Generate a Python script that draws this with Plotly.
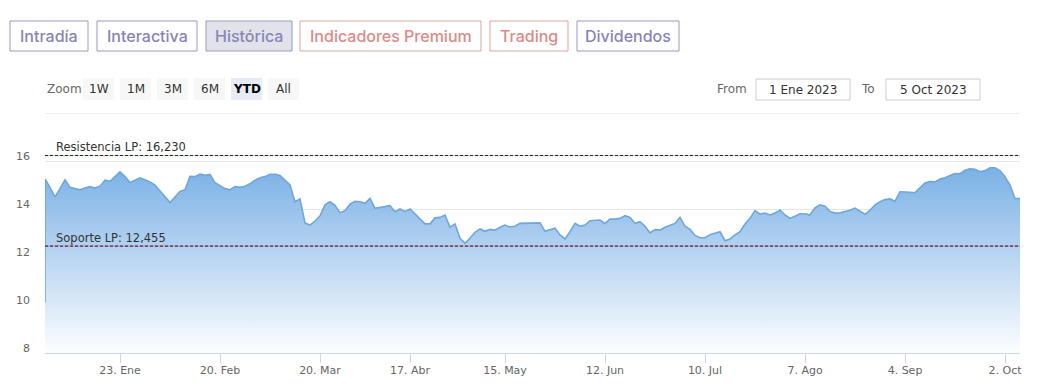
import pandas as pd
import plotly.graph_objects as go

# ---------------- data ----------------
holidays = ["2023-04-07", "2023-04-10", "2023-05-01"]
trading_days = list(pd.bdate_range("2023-01-02", "2023-10-05", freq="C", holidays=holidays))

opening_glitch = 10.1  # first quote drawn as vertical stroke at the left edge
close = [
    15.25, 14.9, 14.5, 14.85, 15.22, 14.9, 14.85, 14.8, 14.87, 14.93,
    14.87, 14.95, 15.2, 15.15, 15.35, 15.55, 15.35, 15.1, 15.2, 15.3,
    15.22, 15.13, 15.0, 14.75, 14.5, 14.27, 14.5, 14.73, 14.8, 15.36,
    15.35, 15.45, 15.4, 15.44, 15.1, 14.98, 14.85, 14.8, 14.93, 14.9,
    14.95, 15.05, 15.2, 15.3, 15.35, 15.45, 15.45, 15.4, 15.2, 15.0,
    14.3, 14.42, 13.42, 13.33, 13.5, 13.72, 14.17, 14.3, 14.15, 13.84,
    13.93, 14.2, 14.32, 14.3, 14.24, 14.44, 14.03, 14.08, 14.1, 14.14,
    13.89, 14.0, 13.9, 14.0, 13.79, 13.58, 13.38, 13.38, 13.63, 13.65,
    13.75, 13.24, 13.38, 12.78, 12.58, 12.78, 13.03, 13.17, 13.07, 13.15,
    13.12, 13.24, 13.33, 13.25, 13.28, 13.4, 13.4, 13.4, 13.4, 13.42,
    13.07, 13.14, 13.2, 12.92, 12.75, 13.05, 13.4, 13.28, 13.33, 13.51,
    13.54, 13.54, 13.4, 13.58, 13.58, 13.61, 13.72, 13.65, 13.4, 13.47,
    13.28, 13.0, 13.14, 13.12, 13.24, 13.33, 13.4, 13.65, 13.28, 13.15,
    12.9, 12.8, 12.8, 12.93, 12.98, 13.05, 12.68, 12.75, 12.92, 13.05,
    13.38, 13.61, 13.93, 13.79, 13.83, 13.75, 13.83, 13.96, 13.75, 13.61,
    13.7, 13.8, 13.8, 13.75, 14.05, 14.17, 14.12, 13.9, 13.83, 13.84,
    13.9, 13.95, 14.04, 13.9, 13.78, 13.95, 14.17, 14.3, 14.39, 14.42,
    14.32, 14.72, 14.72, 14.7, 14.68, 14.9, 15.08, 15.14, 15.13, 15.25,
    15.3, 15.4, 15.48, 15.47, 15.62, 15.67, 15.65, 15.55, 15.6, 15.72,
    15.72, 15.6, 15.35, 15.0, 14.44, 14.44,
]

resistance_value = 16.230
support_value = 12.455
resistance_label = "Resistencia LP: 16,230"
support_label = "Soporte LP: 12,455"

x_tick_dates = ["2023-01-23", "2023-02-20", "2023-03-20", "2023-04-17", "2023-05-15",
                "2023-06-12", "2023-07-10", "2023-08-07", "2023-09-04", "2023-10-02"]
x_tick_text = ["23. Ene", "20. Feb", "20. Mar", "17. Abr", "15. May",
               "12. Jun", "10. Jul", "7. Ago", "4. Sep", "2. Oct"]
y_tick_vals = [8, 10, 12, 14, 16, 18]
y_tick_text = ["8", "10", "12", "14", "16", ""]
y_max = 18

tabs = ["Intradía", "Interactiva", "Histórica", "Indicadores Premium", "Trading", "Dividendos"]
zoom_buttons = ["1W", "1M", "3M", "6M", "YTD", "All"]
date_from = "1 Ene 2023"
date_to = "5 Oct 2023"

# ---------------- layout geometry (pixels) ----------------
W, H = 1039, 389
L, R, T, B = 45, 1020, 113, 353


def px(x):
    return (x - L) / (R - L)


def py(y):
    return (B - y) / (B - T)


dates = [trading_days[0]] + trading_days
values = [opening_glitch] + close

fig = go.Figure()
fig.add_trace(go.Scatter(
    x=dates, y=values, mode="lines",
    line=dict(color="#6fa6dc", width=1.6),
    fill="tozeroy",
    fillgradient=dict(type="vertical", start=8, stop=16,
                      colorscale=[[0, "rgba(252,253,255,0.85)"], [1, "rgba(94,160,224,0.85)"]]),
    hoverinfo="skip", showlegend=False,
))

# top gridline (at the edge of the range)
fig.add_shape(type="line", xref="paper", yref="y", x0=0, x1=1, y0=y_max, y1=y_max,
              line=dict(color="#e0e0e0", width=1), layer="above")

# resistance / support plot lines
for val, solid, dashc in [(resistance_value, "rgba(60,170,60,0.45)", "#1c2a1c"),
                          (support_value, "rgba(210,40,90,0.45)", "#3d0f2a")]:
    fig.add_shape(type="line", xref="paper", yref="y", x0=0, x1=1, y0=val, y1=val,
                  line=dict(color=solid, width=1))
    fig.add_shape(type="line", xref="paper", yref="y", x0=0, x1=1, y0=val, y1=val,
                  line=dict(color=dashc, width=1, dash="3px,2px"))

for val, txt in [(resistance_value, resistance_label), (support_value, support_label)]:
    fig.add_annotation(xref="paper", yref="y", x=px(54), y=val, text=txt, showarrow=False,
                       xanchor="left", yanchor="bottom", yshift=-1,
                       font=dict(family="DejaVu Sans", size=11.5, color="#333333"))

# ---------------- top tabs ----------------
tab_boxes = [(10, 88), (97, 197), (206, 292), (300, 481), (490, 568), (577, 679)]
for name, (a, b) in zip(tabs, tab_boxes):
    premium = name in ("Indicadores Premium", "Trading")
    col = "#dd8a87" if premium else "#8984b8"
    border = "#e0a3a1" if premium else "#9d99bd"
    fill = "#e2e2ea" if name == "Histórica" else "white"
    fig.add_shape(type="rect", xref="paper", yref="paper", x0=px(a), x1=px(b),
                  y0=py(51), y1=py(21), line=dict(color=border, width=1), fillcolor=fill,
                  layer="above")
    fig.add_annotation(xref="paper", yref="paper", x=px((a + b) / 2), y=py(36), text=name,
                       showarrow=False, xanchor="center", yanchor="middle",
                       font=dict(family="Inter", size=16, color=col, weight=500))

# ---------------- range selector ----------------
fig.add_annotation(xref="paper", yref="paper", x=px(45), y=py(89), text="Zoom", showarrow=False,
                   xanchor="left", yanchor="middle",
                   font=dict(family="DejaVu Sans", size=12, color="#666666"))
zb_x = [83, 120, 157, 194, 231, 268]
for name, a in zip(zoom_buttons, zb_x):
    sel = name == "YTD"
    fig.add_shape(type="rect", xref="paper", yref="paper", x0=px(a), x1=px(a + 31),
                  y0=py(100), y1=py(78), line=dict(width=0),
                  fillcolor="#e6ebf5" if sel else "#f7f7f7", layer="above")
    fig.add_annotation(xref="paper", yref="paper", x=px(a + 15.5), y=py(89), text=name,
                       showarrow=False, xanchor="center", yanchor="middle",
                       font=dict(family="DejaVu Sans", size=12,
                                 color="#000000" if sel else "#333333",
                                 weight=700 if sel else 400))

fig.add_annotation(xref="paper", yref="paper", x=px(749), y=py(89), text="From", showarrow=False,
                   xanchor="right", yanchor="middle",
                   font=dict(family="DejaVu Sans", size=12, color="#666666"))
fig.add_annotation(xref="paper", yref="paper", x=px(877), y=py(89), text="To", showarrow=False,
                   xanchor="right", yanchor="middle",
                   font=dict(family="DejaVu Sans", size=12, color="#666666"))
for txt, a, b in [(date_from, 756, 850), (date_to, 886, 980)]:
    fig.add_shape(type="rect", xref="paper", yref="paper", x0=px(a), x1=px(b),
                  y0=py(100), y1=py(79), line=dict(color="#cccccc", width=1),
                  fillcolor="white", layer="above")
    fig.add_annotation(xref="paper", yref="paper", x=px((a + b) / 2), y=py(89.5), text=txt,
                       showarrow=False, xanchor="center", yanchor="middle",
                       font=dict(family="DejaVu Sans", size=12, color="#333333"))

fig.update_layout(
    width=W, height=H,
    margin=dict(l=L, r=W - R, t=T, b=H - B, pad=0),
    paper_bgcolor="white", plot_bgcolor="white",
    hovermode=False,
    xaxis=dict(
        type="date", range=[trading_days[0], trading_days[-1]],
        rangebreaks=[dict(bounds=["sat", "mon"]), dict(values=holidays)],
        tickvals=x_tick_dates, ticktext=x_tick_text,
        ticks="outside", ticklen=9, tickcolor="#ccd6eb", tickwidth=1,
        ticklabelstandoff=-2,
        showline=True, linecolor="#ccd6eb", linewidth=1,
        showgrid=False, zeroline=False,
        tickfont=dict(family="DejaVu Sans", size=11, color="#666666"),
    ),
    yaxis=dict(
        range=[8, y_max], tickvals=y_tick_vals, ticktext=y_tick_text,
        showgrid=True, gridcolor="#e6e6e6", gridwidth=1, zeroline=False,
        ticks="", ticklabelstandoff=14, ticklabelshift=-5,
        tickfont=dict(family="DejaVu Sans", size=11, color="#666666"),
    ),
)

fig.write_html("out.html", config={"displayModeBar": False},
               post_script="document.body.style.margin='0';")
